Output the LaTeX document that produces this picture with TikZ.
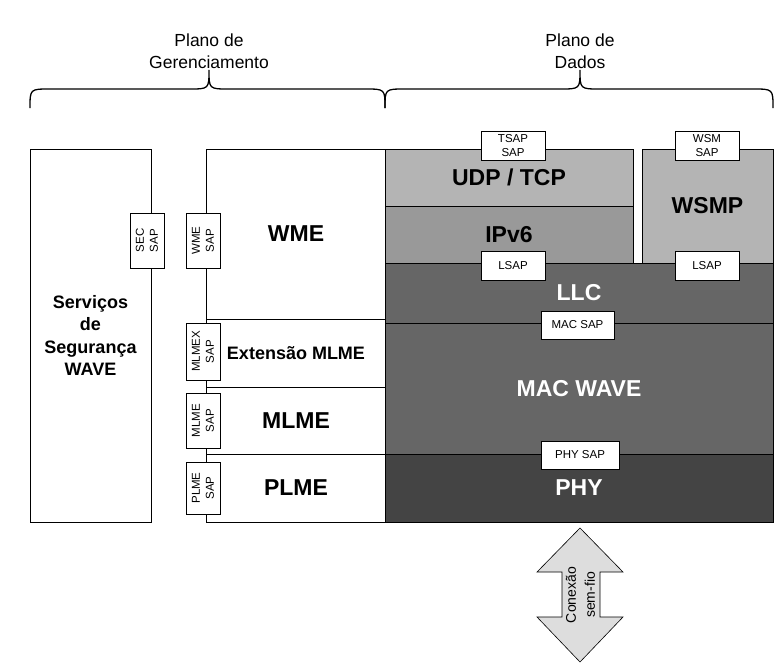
\documentclass[tikz,border=0pt]{standalone}
\usepackage{fontspec}
\setmainfont{Liberation Sans}
\definecolor{transgray}{HTML}{B4B4B4}
\definecolor{netgray}{HTML}{999999}
\definecolor{macgray}{HTML}{666666}
\definecolor{phygray}{HTML}{444444}
\definecolor{linkgray}{HTML}{DDDDDD}
\newcommand{\planebrace}[3]{
  % brace from #1 to #3, tip at #2
  \draw [line width=1.3pt] (#1,108) .. controls (#1,89) .. (#1+20,89) -- (#2-20,89)
        .. controls (#2,89) .. (#2,70) .. controls (#2,89) .. (#2+20,89)
        -- (#3-20,89) .. controls (#3,89) .. (#3,108);
}
\tikzset{
  layer/.style={draw, line width=0.8pt, inner sep=0pt},
  biglabel/.style={font=\fontsize{23}{27}\selectfont\bfseries},
  sap/.style={draw, line width=0.8pt, fill=white, inner sep=0pt,
              font=\fontsize{11.5}{14}\selectfont, align=center},
  vsap/.style={sap, rotate=90}
}
\begin{document}
\begin{tikzpicture}[x=1pt,y=-1pt]
  \useasboundingbox (0,0) rectangle (783,669);

  % The two planes
  \planebrace{30}{209}{385}
  \planebrace{385}{580}{773}
  \node [align=center, font=\fontsize{17.5}{22}\selectfont] (mgmt) at (209,51) {Plano de\\Gerenciamento};
  \node [align=center, font=\fontsize{17.5}{22}\selectfont] (data) at (580,51) {Plano de\\Dados};

  % Security services
  \node [layer, minimum width=121, minimum height=373, align=center,
         font=\fontsize{18}{22.5}\selectfont\bfseries] (sec) at (90.5,335.5)
        {Serviços\\de\\Segurança\\WAVE};

  % Management entities
  \node [layer, minimum width=180, minimum height=170, biglabel] (wme) at (296,234) {WME};
  \node [layer, minimum width=180, minimum height=68,
         font=\fontsize{18}{22}\selectfont\bfseries] (mlmex) at (296,353) {Extensão MLME};
  \node [layer, minimum width=180, minimum height=67, biglabel] (mlme) at (296,420.5) {MLME};
  \node [layer, minimum width=180, minimum height=68, biglabel] (plme) at (296,488) {PLME};

  % Data plane layers
  \node [layer, fill=transgray, minimum width=248, minimum height=57, biglabel] (udp) at (509,177.5) {UDP / TCP};
  \node [layer, fill=netgray, minimum width=248, minimum height=57, biglabel] (ipv6) at (509,234.5) {IPv6};
  \node [layer, fill=transgray, minimum width=131, minimum height=114, biglabel] (wsmp) at (707.5,206) {WSMP};
  \node [layer, fill=macgray, minimum width=388, minimum height=60, biglabel, text=white] (llc) at (579,293) {LLC};
  \node [layer, fill=macgray, minimum width=388, minimum height=131, biglabel, text=white] (mac) at (579,388.5) {MAC WAVE};
  \node [layer, fill=phygray, minimum width=388, minimum height=68, biglabel, text=white] (phy) at (579,488) {PHY};

  % Service access points
  \node [vsap, minimum width=55, minimum height=34] (secsap) at (147,240.5) {SEC\\SAP};
  \node [vsap, minimum width=55, minimum height=34] (wmesap) at (203,240.5) {WME\\SAP};
  \node [vsap, minimum width=57, minimum height=34] (mlmexsap) at (203,351.5) {MLMEX\\SAP};
  \node [vsap, minimum width=55, minimum height=34] (mlmesap) at (203,420.5) {MLME\\SAP};
  \node [vsap, minimum width=52, minimum height=34] (plmesap) at (203,488) {PLME\\SAP};
  \node [sap, minimum width=64, minimum height=29] (tsap) at (513,145.5) {TSAP\\SAP};
  \node [sap, minimum width=64, minimum height=29] (wsmsap) at (707,145.5) {WSM\\SAP};
  \node [sap, minimum width=64, minimum height=29] (lsapip) at (513,265.5) {LSAP};
  \node [sap, minimum width=64, minimum height=29] (lsapwsm) at (707,265.5) {LSAP};
  \node [sap, minimum width=73, minimum height=28] (macsap) at (577.5,325) {MAC SAP};
  \node [sap, minimum width=78, minimum height=28] (physap) at (580,455) {PHY SAP};

  % Wireless link
  \filldraw [fill=linkgray, draw=black, line width=0.6pt]
    (580,528) -- (623,572) -- (600,572) -- (600,617) -- (623,617) -- (580,662)
    -- (537,617) -- (562,617) -- (562,572) -- (537,572) -- cycle;
  \node [rotate=90, align=center, font=\fontsize{14}{19}\selectfont] (link) at (580.5,595) {Conexão\\sem-fio};
\end{tikzpicture}
\end{document}
